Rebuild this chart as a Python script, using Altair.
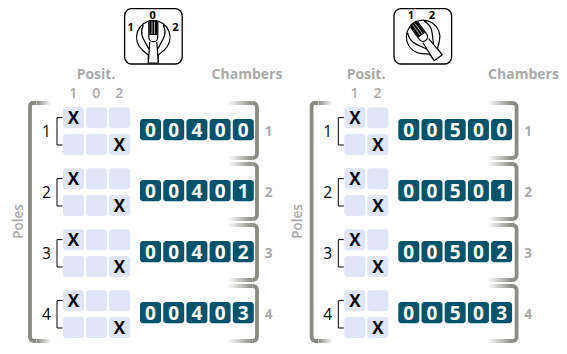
import math
import altair as alt
import pandas as pd

# ---------- chart content ----------
POLES = ["1", "2", "3", "4"]
CHAMBERS = ["1", "2", "3", "4"]
POSIT_LEFT = ["1", "0", "2"]
POSIT_RIGHT = ["1", "2"]
CODES_LEFT = ["00400", "00401", "00402", "00403"]
CODES_RIGHT = ["00500", "00501", "00502", "00503"]
CONTACTS = ["1", "2"]  # position closed on the upper and lower contact of each pole
ICON_LEFT = ["1", "0", "2"]
ICON_RIGHT = ["1", "2"]

# ---------- layout (page pixels) ----------
FONT = "Open Sans"
GRAY = "#aaaaaa"
TEAL = "#07536b"
CELL = "#e0e5f5"
BAR = "#8b8b85"
POLE_PITCH = 61
ROW_TOP = [107.3, 134.0]
CELL_SIZE = 21
CELL_PITCH = 23
CODE_PITCH = 23.2
OFFSET_RIGHT = 281.3

xs = alt.Scale(domain=[8, 559])
ys = alt.Scale(domain=[346, 8])
X = alt.X("x:Q", scale=xs, axis=None)
Y = alt.Y("y:Q", scale=ys, axis=None)

cells, xmarks, codes, digits, pos_labels, pole_labels, ch_labels, pole_x = [], [], [], [], [], [], [], []
top_fades, bottom_fades, right_br = [], [], []
heads = []
for off, code_off, posits, code_list, br_off in [
    (0, 0, POSIT_LEFT, CODES_LEFT, 0),
    (OFFSET_RIGHT, 258.3, POSIT_RIGHT, CODES_RIGHT, 259.6),
]:
    for c, p in enumerate(posits):
        pos_labels.append({"x": 73.3 + off + c * CELL_PITCH, "y": 98.3, "t": p})
    for g, pole in enumerate(POLES):
        dy = g * POLE_PITCH
        for r, top in enumerate(ROW_TOP):
            for c, p in enumerate(posits):
                x0 = 63 + off + c * CELL_PITCH
                y0 = top + dy
                cells.append({"x": x0, "x2": x0 + CELL_SIZE, "y": y0, "y2": y0 + CELL_SIZE})
                if p == CONTACTS[r]:
                    xmarks.append({"x": x0 + CELL_SIZE / 2, "y": y0 + 16.8, "t": "X"})
        pole_labels.append({"x": 46.5 + off, "y": 136.7 + dy, "t": pole})
        pole_x.append({"x": 57 + off, "y": 131.3 + dy})
        for i, d in enumerate(code_list[g]):
            x0 = 140 + code_off + i * CODE_PITCH
            y0 = 119 + dy
            codes.append({"x": x0, "x2": x0 + CELL_SIZE, "y": y0, "y2": y0 + 21.3})
            digits.append({"x": x0 + 10.5, "y": y0 + 18.3, "t": d})
        ch_labels.append({"x": 269.3 + br_off - 0.7, "y": 135.7 + dy, "t": CHAMBERS[g]})
        right_br.append({"x": 257 + br_off, "y": 130.5 + dy})
        for yy, store in ((103 + dy, top_fades), (158 + dy, bottom_fades)):
            store.append({"x": 228 + br_off, "x2": 252.5 + br_off, "y": yy - 2, "y2": yy + 2})

left_br = [{"x": 33, "y": 222}, {"x": 33 + 281.6, "y": 222}]
left_fade = [{"x": 37 + o, "x2": 51 + o, "y": yy - 2, "y2": yy + 2} for o in (0, 281.6) for yy in (103, 341)]
heads = [{"x": 96, "y": 79, "t": "Posit."}, {"x": 96 + 270, "y": 79, "t": "Posit."},
         {"x": 247, "y": 79, "t": "Chambers"}, {"x": 523.5, "y": 79, "t": "Chambers"}]
poles = [{"x": 22.8, "y": 221.5, "t": "Poles"}, {"x": 302, "y": 221.5, "t": "Poles"}]
icon_boxes = [{"x": 124.6, "x2": 182.2, "y": 8.7, "y2": 64},
              {"x": 394, "x2": 451.6, "y": 8.7, "y2": 64}]
icon_labels = [{"x": 152.7, "y": 19, "t": ICON_LEFT[1]}, {"x": 130.7, "y": 31, "t": ICON_LEFT[0]},
               {"x": 175.3, "y": 31, "t": ICON_LEFT[2]},
               {"x": 411, "y": 19, "t": ICON_RIGHT[0]}, {"x": 432, "y": 19, "t": ICON_RIGHT[1]}]

# ---------- glyph outlines, in pixels round their own centre ----------
def rot(p, deg):
    a = math.radians(deg)
    return (p[0] * math.cos(a) - p[1] * math.sin(a), p[0] * math.sin(a) + p[1] * math.cos(a))

def path(cmds, deg=0):
    out = []
    for c in cmds:
        if c[0] in "ML":
            q = rot(c[1], deg)
            out.append(f"{c[0]}{q[0]:.2f},{q[1]:.2f}")
        elif c[0] == "C":
            pts = [rot(p, deg) for p in c[1:]]
            out.append("C" + " ".join(f"{q[0]:.2f},{q[1]:.2f}" for q in pts))
        elif c[0] == "A":
            q = rot(c[4], deg)
            out.append(f"A{c[1]},{c[1]} 0 {c[2]} {c[3]} {q[0]:.2f},{q[1]:.2f}")
        elif c[0] == "Z":
            out.append("Z")
    return " ".join(out)

KNOB = [
    ("M", (-5, 25)), ("L", (-5, 17)), ("L", (-11, 12)), ("A", 16.8, 1, 1, (11, 12)), ("L", (5, 17)), ("L", (5, 25)), ("Z",),
    ("M", (-10, -13)), ("C", (-15, -3), (-8, 3), (-4.5, 11)),
    ("M", (10, -13)), ("C", (15, -3), (8, 3), (4.5, 11)),
    ("M", (-5, 25)), ("L", (-3.5, 4)),
    ("M", (5, 25)), ("L", (3.5, 4)),
    ("M", (-4.5, -16)), ("L", (-4.5, -0.8)), ("A", 4.5, 0, 0, (4.5, -0.8)), ("L", (4.5, -16)),
]
GRIP = [("M", (-4, -18)), ("L", (4, -18)), ("L", (4, -3)), ("L", (-4, -3)), ("Z",)]
STRIPES = [("M", (-1.3, -16.5)), ("L", (-1.3, -4)), ("M", (1.3, -16.5)), ("L", (1.3, -4))]

BRACKET_L = "M3.5,-119 L-1,-119 A4,4 0 0 0 -3,-115 L-3,115 A4,4 0 0 0 1,119 L3.5,119"
BRACKET_R = "M-4.5,-27.5 L-4,-27.5 A4,4 0 0 1 0,-23.5 L0,23.5 A4,4 0 0 1 -4,27.5 L-4.5,27.5"
POLE_TICK = "M5.5,-13.7 L0,-13.7 L0,13.7 L5.5,13.7"

def frame(rows):
    return pd.DataFrame(rows)

def rects(rows, **kw):
    return alt.Chart(frame(rows)).mark_rect(**kw).encode(x=X, x2="x2:Q", y=Y, y2="y2:Q")

def texts(rows, **kw):
    kw.setdefault("font", FONT)
    kw.setdefault("baseline", "alphabetic")
    return alt.Chart(frame(rows)).mark_text(**kw).encode(x=X, y=Y, text="t:N")

def glyph(rows, shape, stroke="#000000", width=1.2, fill=None):
    if fill:
        mk = alt.Chart(frame(rows)).mark_point(shape=shape, size=4, filled=True, fill=fill, opacity=1)
    else:
        mk = alt.Chart(frame(rows)).mark_point(shape=shape, size=4, filled=False, stroke=stroke,
                                               strokeWidth=width, opacity=1)
    return mk.encode(x=X, y=Y)

def fade(direction):
    stops = [alt.GradientStop(offset=0, color=BAR), alt.GradientStop(offset=1, color="#ffffff")]
    if direction == "in":
        stops = [alt.GradientStop(offset=0, color="#ffffff"), alt.GradientStop(offset=1, color=BAR)]
    return alt.Gradient(gradient="linear", stops=stops, x1=0, x2=1, y1=0, y2=0)

C_L, C_R = {"x": 153.3, "y": 38}, {"x": 423.5, "y": 37.5}
ROT = -36

layers = [
    rects(left_fade, fill=fade("out")),
    rects(top_fades + bottom_fades, fill=fade("in")),
    glyph(left_br, BRACKET_L, stroke=BAR, width=3.8),
    glyph(right_br, BRACKET_R, stroke=BAR, width=3.8),
    rects(cells, fill=CELL, cornerRadius=3),
    rects(codes, fill=TEAL, cornerRadius=3),
    glyph(pole_x, POLE_TICK, width=1),
    rects(icon_boxes, fill="#ffffff", stroke="#000000", strokeWidth=1.3, cornerRadius=7),
    glyph([C_L], path(KNOB), width=1.2),
    glyph([C_R], path(KNOB, ROT), width=1.2),
    glyph([C_L], path(GRIP), fill="#000000"),
    glyph([C_R], path(GRIP, ROT), fill="#000000"),
    glyph([C_L], path(STRIPES), stroke="#ffffff", width=0.7),
    glyph([C_R], path(STRIPES, ROT), stroke="#ffffff", width=0.7),
    texts(icon_labels, fontSize=11, fontWeight="bold", color="#000000", align="center"),
    texts(heads, fontSize=14, fontWeight="bold", color=GRAY, align="center"),
    texts(pos_labels, fontSize=14, fontWeight=600, color=GRAY, align="center"),
    texts(pole_labels, fontSize=15.5, color="#000000", align="center"),
    texts(ch_labels, fontSize=13.5, fontWeight="bold", color=GRAY, align="center"),
    texts(xmarks, fontSize=17, fontWeight="bold", color="#000000", align="center"),
    texts(digits, fontSize=19, fontWeight="bold", color="#ffffff", align="center"),
    texts(poles, fontSize=13.5, fontWeight=600, color=GRAY, align="center", angle=270),
]

chart = alt.layer(*layers).properties(
    width=551, height=338, padding=0, autosize=alt.AutoSizeParams(type="none")
).configure_view(stroke=None)

chart.save("out.html", embed_options={"renderer": "svg", "actions": False})
